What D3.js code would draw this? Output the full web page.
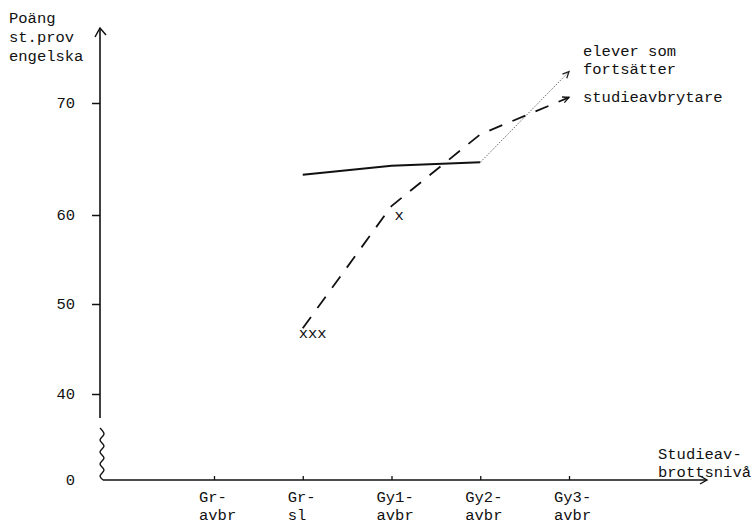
<!DOCTYPE html>
<html>
<head>
<meta charset="utf-8">
<script src="https://cdn.jsdelivr.net/npm/d3@7"></script>
<style>
  body { margin: 0; background: #fff; }
  svg text { font-family: "Liberation Mono", "DejaVu Sans Mono", monospace; font-size: 15.5px; fill: #111; }
</style>
</head>
<body>
<svg id="chart" width="751" height="529"></svg>
<script>
// ---- data ----
const categories = ["Gr-avbr", "Gr-sl", "Gy1-avbr", "Gy2-avbr", "Gy3-avbr"];
const categoryLines = [["Gr-", "avbr"], ["Gr-", "sl"], ["Gy1-", "avbr"], ["Gy2-", "avbr"], ["Gy3-", "avbr"]];
const yTicks = [40, 50, 60, 70];
// elever som fortsätter (solid part, then thin dotted to Gy3)
const fortsatterSolid = [
  { cat: "Gr-sl", v: 63.6 },
  { cat: "Gy1-avbr", v: 64.4 },
  { cat: "Gy2-avbr", v: 64.7 }
];
const fortsatterDotted = [
  { cat: "Gy2-avbr", v: 64.7 },
  { cat: "Gy3-avbr", v: 72.8 }
];
// studieavbrytare (dashed)
const studieavbrytare = [
  { cat: "Gr-sl", v: 47.3 },
  { cat: "Gy1-avbr", v: 60.8 },
  { cat: "Gy2-avbr", v: 67.2 },
  { cat: "Gy3-avbr", v: 70.5 }
];
const markNotes = [
  { cat: "Gr-sl", v: 47.3, text: "xxx" },
  { cat: "Gy1-avbr", v: 60.8, text: "x" }
];
const legendLines = [
  { text: "elever som", v: 74.6 },
  { text: "fortsätter", v: 73.0 },
  { text: "studieavbrytare", v: 70.5 }
];
const yTitle = ["Poäng", "st.prov", "engelska"];
const xTitle = ["Studieav-", "brottsnivå"];

// ---- layout ----
const svg = d3.select("#chart");
const axisX = 100, axisTop = 28, axisBreakTop = 418, xAxisY = 480, xAxisEnd = 707;

const x = d3.scalePoint().domain(categories).range([214, 569]);
const y = d3.scaleLinear().domain([40, 50, 60, 70]).range([394, 304, 215, 103]);

// y axis
const yAxis = d3.axisLeft(y).tickValues(yTicks).tickSize(8).tickPadding(17);
const yg = svg.append("g").attr("transform", `translate(${axisX},0)`).call(yAxis);
yg.select(".domain").remove();
yg.selectAll(".tick line").attr("stroke", "#111").attr("stroke-width", 1.5);
yg.selectAll(".tick text").attr("font-family", null).attr("font-size", null);

svg.append("line").attr("x1", axisX).attr("x2", axisX).attr("y1", axisTop).attr("y2", axisBreakTop)
  .attr("stroke", "#111").attr("stroke-width", 1.6);
// top arrow
svg.append("path").attr("d", `M${axisX - 5},${axisTop + 9} L${axisX},${axisTop} L${axisX + 6},${axisTop + 7}`)
  .attr("fill", "none").attr("stroke", "#111").attr("stroke-width", 1.5);

// break squiggle
const sq = [];
for (let i = 0; i <= 8; i++) sq.push([axisX + (i % 2 === 0 ? 0 : 4), 428 + i * 6]);
sq.push([axisX + 3, xAxisY]);
svg.append("path").attr("d", d3.line().curve(d3.curveCatmullRom)(sq))
  .attr("fill", "none").attr("stroke", "#111").attr("stroke-width", 1.4);

svg.append("text").attr("x", 75).attr("y", xAxisY + 5).attr("text-anchor", "end").text("0");

// x axis
svg.append("line").attr("x1", axisX + 3).attr("x2", xAxisEnd).attr("y1", xAxisY).attr("y2", xAxisY)
  .attr("stroke", "#111").attr("stroke-width", 1.6);
svg.append("path").attr("d", `M${xAxisEnd - 7},${xAxisY - 4} L${xAxisEnd},${xAxisY} L${xAxisEnd - 7},${xAxisY + 4}`)
  .attr("fill", "none").attr("stroke", "#111").attr("stroke-width", 1.4);
const xAxis = d3.axisBottom(x).tickSizeInner(-4).tickSizeOuter(0).tickFormat("");
const xg = svg.append("g").attr("transform", `translate(0,${xAxisY})`).call(xAxis);
xg.select(".domain").remove();
xg.selectAll(".tick line").attr("stroke", "#111").attr("stroke-width", 1.3);

categories.forEach((c, i) => {
  const t = svg.append("text").attr("x", x(c) - 15).attr("y", 502);
  categoryLines[i].forEach((ln, j) => {
    t.append("tspan").attr("x", x(c) - 15).attr("dy", j === 0 ? 0 : 18).text(ln);
  });
});

// titles
const yt = svg.append("text").attr("x", 9).attr("y", 23);
yTitle.forEach((ln, j) => yt.append("tspan").attr("x", 9).attr("dy", j === 0 ? 0 : 19).text(ln));
const xt = svg.append("text").attr("x", 658).attr("y", 459);
xTitle.forEach((ln, j) => xt.append("tspan").attr("x", 658).attr("dy", j === 0 ? 0 : 18).text(ln));

// lines
const line = d3.line().x(d => x(d.cat)).y(d => y(d.v));
svg.append("path").datum(fortsatterSolid).attr("d", line)
  .attr("fill", "none").attr("stroke", "#111").attr("stroke-width", 2);
svg.append("path").datum(fortsatterDotted).attr("d", line)
  .attr("fill", "none").attr("stroke", "#666").attr("stroke-width", 1).attr("stroke-dasharray", "1.5,1.5");
svg.append("path").datum(studieavbrytare).attr("d", line)
  .attr("fill", "none").attr("stroke", "#111").attr("stroke-width", 1.8).attr("stroke-dasharray", "14,11");

// small arrowheads at ends
function endArrow(data, color) {
  const a = data[data.length - 2], b = data[data.length - 1];
  const x1 = x(a.cat), y1 = y(a.v), x2 = x(b.cat), y2 = y(b.v);
  const ang = Math.atan2(y2 - y1, x2 - x1);
  const L = 7, w = 0.45;
  const p1 = [x2 - L * Math.cos(ang - w), y2 - L * Math.sin(ang - w)];
  const p2 = [x2 - L * Math.cos(ang + w), y2 - L * Math.sin(ang + w)];
  svg.append("path").attr("d", `M${p1} L${x2},${y2} L${p2}`)
    .attr("fill", "none").attr("stroke", color).attr("stroke-width", 1.3);
}
endArrow(fortsatterDotted, "#222");
endArrow(studieavbrytare, "#111");

// x marks
markNotes.forEach(m => {
  svg.append("text").attr("x", x(m.cat) + (m.text === "x" ? 3 : -4)).attr("y", y(m.v) + (m.text === "x" ? 14 : 10)).text(m.text);
});

// legend labels
legendLines.forEach(l => {
  svg.append("text").attr("x", 583).attr("y", y(l.v) + 5).text(l.text);
});
</script>
</body>
</html>
